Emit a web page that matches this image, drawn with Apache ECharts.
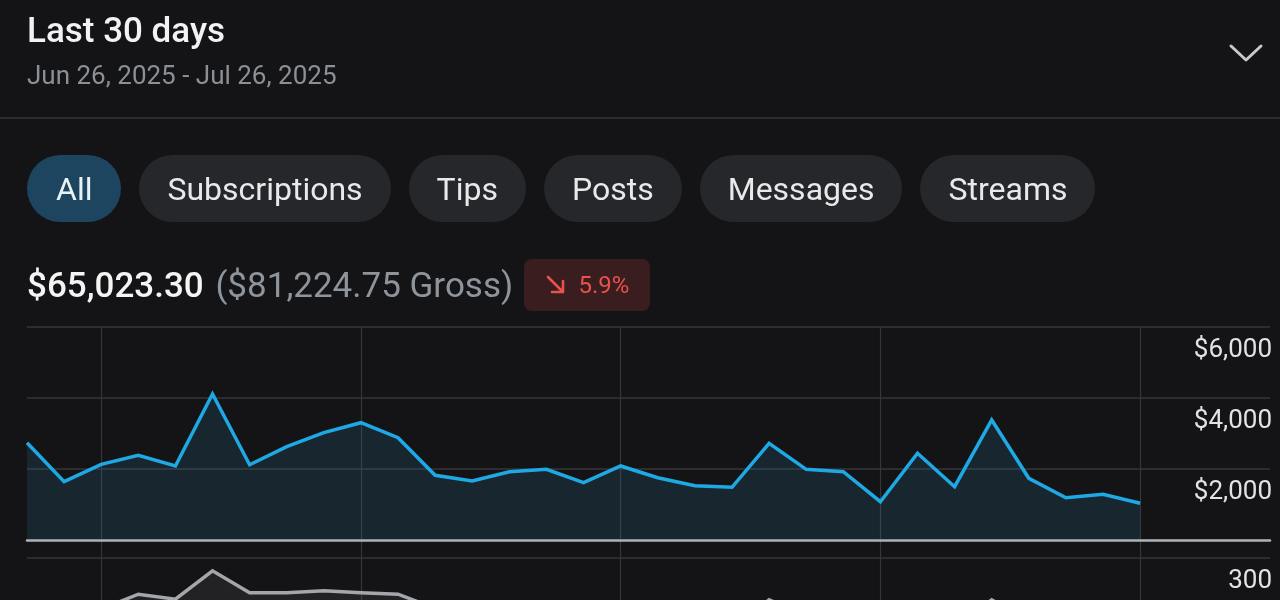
<!DOCTYPE html>
<html>
<head>
<meta charset="utf-8">
<script src="https://cdn.jsdelivr.net/npm/echarts@6/dist/echarts.min.js"></script>
<style>
  html, body { margin:0; padding:0; background:#141417; }
  body { width:1280px; height:600px; overflow:hidden; position:relative; font-family: Roboto, "Noto Sans", sans-serif; }
  #chart { position:absolute; left:0; top:0; width:1280px; height:820px; }
  .abs { position:absolute; white-space:nowrap; }
  #title { left:27px; top:13px; font-size:35px; line-height:35px; font-weight:500; color:#f2f2f3; }
  #range { left:27px; top:62px; font-size:26px; line-height:26px; color:#8b9097; }
  #divider { left:0; top:117px; width:1280px; height:2px; background:#2a2b2f; }
  #pills { left:27px; top:155px; display:flex; gap:18px; }
  .pill { height:67px; border-radius:34px; background:#26272b; color:#e9e9eb; font-size:32px; display:flex; align-items:center; padding:0 28px; }
  .pill.active { background:#1e4560; color:#e8f1f6; padding:0 29px; }
  #total { left:27px; top:268px; font-size:35px; line-height:35px; font-weight:500; color:#f4f4f5; }
  #gross { font-weight:400; color:#8e949b; margin-left:3px; }
  #badge { left:524px; top:259px; width:126px; height:52px; border-radius:8px; background:#3a1d1f; color:#e8524c; font-size:24px; display:flex; align-items:center; justify-content:center; gap:12px; }
</style>
</head>
<body>
<div id="chart"></div>
<div class="abs" id="title">Last 30 days</div>
<div class="abs" id="range">Jun 26, 2025 - Jul 26, 2025</div>
<svg class="abs" style="left:0;top:0" width="1280" height="120">
  <polyline points="1231,46 1246,60 1261,46" fill="none" stroke="#c5c9ce" stroke-width="3" stroke-linecap="round" stroke-linejoin="round"/>
</svg>
<div class="abs" id="divider"></div>
<div class="abs" id="pills">
  <div class="pill active">All</div>
  <div class="pill">Subscriptions</div>
  <div class="pill">Tips</div>
  <div class="pill">Posts</div>
  <div class="pill">Messages</div>
  <div class="pill">Streams</div>
</div>
<div class="abs" id="total">$65,023.30 <span id="gross">($81,224.75 Gross)</span></div>
<div class="abs" id="badge">
  <svg width="22" height="22" viewBox="0 0 22 22"><path d="M3 3 L18 18 M18 7 L18 18 L7 18" fill="none" stroke="#e8524c" stroke-width="2.6" stroke-linecap="round" stroke-linejoin="round"/></svg>
  <span>5.9%</span>
</div>
<script>
// ---- data ----
const dates = ['Jun 26','Jun 27','Jun 28','Jun 29','Jun 30','Jul 1','Jul 2','Jul 3','Jul 4','Jul 5',
  'Jul 6','Jul 7','Jul 8','Jul 9','Jul 10','Jul 11','Jul 12','Jul 13','Jul 14','Jul 15',
  'Jul 16','Jul 17','Jul 18','Jul 19','Jul 20','Jul 21','Jul 22','Jul 23','Jul 24','Jul 25','Jul 26'];
const netEarnings = [2741,1642,2132,2386,2085,4113,2121,2628,3023,3304,
  2882,1823,1662,1924,1991,1614,2085,1755,1530,1484,
  2724,1991,1924,1079,2442,1501,3380,1738,1192,1287,1034];
const secondMetric = [215,205,228,249,242,282,251,251,254,251,
  249,229,205,215,218,200,222,210,198,196,
  241,218,214,185,226,200,241,212,190,195,185];
const earnTicks = [0,2000,4000,6000];
const metricTicks = [0,100,200,300];
const weekGridDays = ['Jun 28','Jul 5','Jul 12','Jul 19','Jul 26'];

const chart = echarts.init(document.getElementById('chart'), null, {renderer:'canvas'});
const gridColor = '#35363a';
const labelStyle = {
  inside:true, align:'right', verticalAlign:'top', margin:-2, padding:[10,0,0,0],
  color:'#e2e3e5', fontSize:26, fontFamily:'Roboto'
};
const xSpan = 33.5;
chart.setOption({
  animation:false,
  backgroundColor:'transparent',
  grid:[
    {left:27, right:10, top:327, height:213},
    {left:27, right:10, top:558, height:213},
    {left:27, right:140, top:327, height:480}
  ],
  xAxis:[
    {gridIndex:0, type:'value', min:0, max:xSpan, axisLine:{show:true, onZero:false, lineStyle:{color:'#aeb2b6', width:2.5}}, axisTick:{show:false}, axisLabel:{show:false}, splitLine:{show:false}},
    {gridIndex:1, type:'value', min:0, max:xSpan, axisLine:{show:false}, axisTick:{show:false}, axisLabel:{show:false}, splitLine:{show:false}},
    {gridIndex:2, type:'category', data:dates, boundaryGap:false, axisLine:{show:false}, axisTick:{show:false}, axisLabel:{show:false},
      splitLine:{show:true, interval:(idx, val)=>weekGridDays.includes(val), lineStyle:{color:gridColor, width:1.2}}}
  ],
  yAxis:[
    {gridIndex:0, type:'value', position:'right', min:earnTicks[0], max:earnTicks[earnTicks.length-1], interval:earnTicks[1]-earnTicks[0],
      axisLine:{show:false}, axisTick:{show:false},
      splitLine:{show:true, lineStyle:{color:gridColor, width:1.5}},
      axisLabel:Object.assign({}, labelStyle, {formatter:v=> v===0 ? '' : '$'+v.toLocaleString('en-US')})},
    {gridIndex:1, type:'value', position:'right', min:metricTicks[0], max:metricTicks[metricTicks.length-1], interval:metricTicks[1]-metricTicks[0],
      axisLine:{show:false}, axisTick:{show:false},
      splitLine:{show:true, lineStyle:{color:gridColor, width:1.5}},
      axisLabel:Object.assign({}, labelStyle, {formatter:v=> v===0 ? '' : String(v)})},
    {gridIndex:2, type:'value', min:0, max:1, show:false}
  ],
  series:[
    {type:'line', xAxisIndex:0, yAxisIndex:0, data:netEarnings.map((v,i)=>[i,v]), symbol:'none',
      lineStyle:{color:'#1ea9e4', width:3.5, join:'miter'}, areaStyle:{color:'rgba(45,150,200,0.2)'}, z:3},
    {type:'line', xAxisIndex:1, yAxisIndex:1, data:secondMetric.map((v,i)=>[i,v]), symbol:'none',
      lineStyle:{color:'#a3a7ac', width:3.5, join:'miter'}, areaStyle:{color:'rgba(160,165,172,0.14)'}, z:3}
  ]
});
</script>
</body>
</html>
